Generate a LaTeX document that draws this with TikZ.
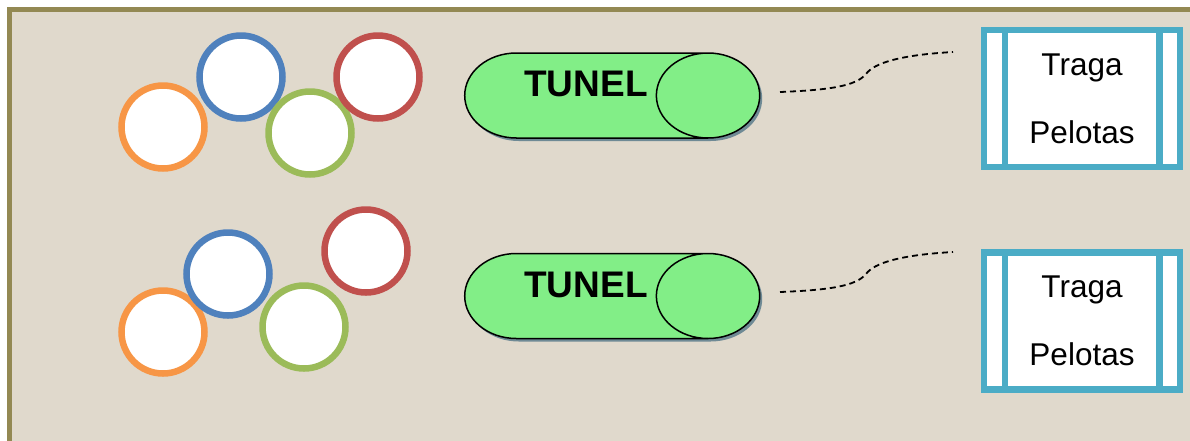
\documentclass[tikz,border=0pt]{standalone}
\usepackage{fontspec}
\setmainfont{Liberation Sans}
\usetikzlibrary{shapes.geometric,shadows}
\definecolor{marco}{HTML}{938953}
\definecolor{fondo}{HTML}{E0D9CC}
\definecolor{zorange}{HTML}{F79646}
\definecolor{zblue}{HTML}{4F81BD}
\definecolor{zgreen}{HTML}{9BBB59}
\definecolor{zred}{HTML}{C0504D}
\definecolor{tunelverde}{HTML}{82EE87}
\definecolor{sombra}{HTML}{6F8A95}
\definecolor{cajaazul}{HTML}{4BACC6}
\newcommand{\tunel}{\raisebox{12pt}[26.5pt][0pt]{TUNEL}}

\begin{document}
\begin{tikzpicture}[x=1pt, y=-1pt, zball/.style={circle, draw=#1, line width=6.5pt, fill=white, minimum size=83pt, inner sep=0pt}, ztunel/.style={cylinder, draw=black, line width=1.5pt, fill=tunelverde, shape aspect=3.9, minimum height=295pt, minimum width=85pt, inner sep=0pt, font=\fontsize{37}{40}\selectfont\bfseries, drop shadow={shadow xshift=2.5pt, shadow yshift=-3pt, fill=sombra, opacity=1}}, ztraga/.style={rectangle, draw=cajaazul, line width=6.5pt, fill=white, minimum width=196pt, minimum height=137pt, inner sep=0pt, align=center, font=\fontsize{31.5}{68}\selectfont}, zlink/.style={line width=1.8pt, dash pattern=on 6pt off 4pt}]
  \useasboundingbox (0,0) rectangle (1190,440);
  \fill[fondo] (9.5,9.5) rectangle (1200,450);
  \draw[marco, line width=5pt] (9.5,460) -- (9.5,9.5) -- (1200,9.5);
% pelotas
\foreach \n/\x/\y/\c in {o1/163/127/zorange, a1/241/77/zblue, v1/310/133/zgreen, r1/378/77/zred, o2/163/332/zorange, a2/228/274/zblue, v2/304/327/zgreen, r2/366/251/zred}{\node[zball=\c] (\n) at (\x,\y) {};}
% tuneles
  \node[ztunel] (t1) at (586,95.5) {\tunel};
  \node[ztunel] (t2) at (586,296) {\tunel};
% traga pelotas
  \node[ztraga] (b1) at (1082,98.5) {Traga\\Pelotas};
  \node[ztraga] (b2) at (1082,321) {Traga\\Pelotas};
  \foreach \b in {b1,b2}{\draw[cajaazul, line width=6.5pt] ([xshift=24pt]\b.north west) -- ([xshift=24pt]\b.south west); \draw[cajaazul, line width=6.5pt] ([xshift=-24pt]\b.north east) -- ([xshift=-24pt]\b.south east);}
% enlaces
  \coordinate (l1a) at (780,92); \coordinate (l1b) at (953,52);
  \coordinate (l2a) at (780,292); \coordinate (l2b) at (953,252);
  \draw[zlink] (l1a) .. controls (830,90) and (856,86) .. (866,74) .. controls (874,63) and (900,55) .. (l1b);
  \draw[zlink] (l2a) .. controls (830,290) and (856,286) .. (866,274) .. controls (874,263) and (900,255) .. (l2b);
\end{tikzpicture}
\end{document}
